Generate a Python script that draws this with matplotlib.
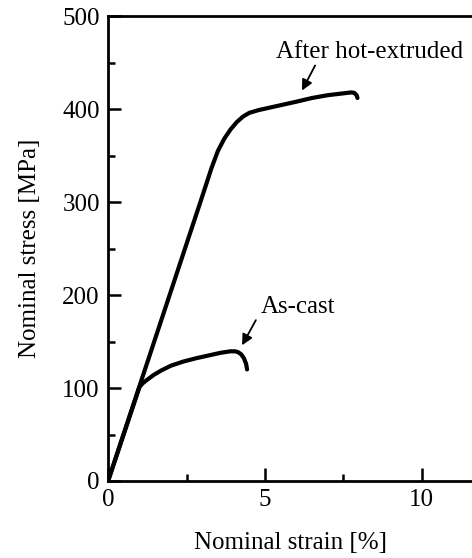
import numpy as np
import matplotlib
matplotlib.use("Agg")
import matplotlib.pyplot as plt
from matplotlib.ticker import MultipleLocator

plt.rcParams["font.family"] = ["Liberation Serif", "DejaVu Serif"]

# stress-strain curves (strain in %, stress in MPa)
hot_strain = [0.0, 1.0, 2.0, 3.0, 3.3, 3.5, 3.7, 3.9, 4.1, 4.3, 4.5, 4.8, 5.2,
              5.6, 6.0, 6.5, 7.0, 7.5, 7.75, 7.85, 7.92, 7.95]
hot_stress = [0.0, 102, 204, 306, 337, 355, 368, 378, 386, 392, 396, 399, 402,
              405, 408, 412, 415, 417, 418, 417.5, 415, 412]

cast_strain = [0.0, 1.0, 1.1, 1.25, 1.45, 1.7, 2.0, 2.4, 2.8, 3.2, 3.6, 3.9,
               4.05, 4.15, 4.25, 4.33, 4.4, 4.43]
cast_stress = [0.0, 101, 105, 109, 114, 119, 124, 128.5, 132, 135, 138, 139.5,
               139.5, 138.5, 136, 132, 126, 120]

fig = plt.figure(figsize=(4.72, 5.58), dpi=100)
ax = fig.add_axes([0.229, 0.138, 0.771, 0.833])

for xs, ys in [(hot_strain, hot_stress), (cast_strain, cast_stress)]:
    ax.plot(xs, ys, color="black", lw=3.0, solid_capstyle="round",
            solid_joinstyle="round")

ax.set_xlim(0, 11.6)
ax.set_ylim(0, 500)
ax.xaxis.set_major_locator(MultipleLocator(5))
ax.xaxis.set_minor_locator(MultipleLocator(2.5))
ax.yaxis.set_major_locator(MultipleLocator(100))
ax.yaxis.set_minor_locator(MultipleLocator(50))

ax.spines["right"].set_visible(False)
for s in ["left", "bottom", "top"]:
    ax.spines[s].set_linewidth(2.0)
ax.tick_params(which="major", direction="in", length=9.5, width=1.8,
               labelsize=18, pad=6)
ax.tick_params(which="minor", direction="in", length=5, width=1.8)
ax.tick_params(top=False, right=False, which="both")

ax.set_xlabel("Nominal strain [%]", fontsize=18, labelpad=15)
ax.set_ylabel("Nominal stress [MPa]", fontsize=18, labelpad=15)

arrow = dict(arrowstyle="-|>", color="black", lw=1.3, mutation_scale=16,
             shrinkA=0, shrinkB=0)
ax.annotate("", xy=(6.18, 420), xytext=(6.6, 447), arrowprops=arrow)
ax.text(8.34, 461, "After hot-extruded", fontsize=18, ha="center", va="center")
ax.annotate("", xy=(4.27, 146), xytext=(4.71, 173), arrowprops=arrow)
ax.text(6.05, 187, "As-cast", fontsize=18, ha="center", va="center")

fig.savefig("out.png", dpi=100)
